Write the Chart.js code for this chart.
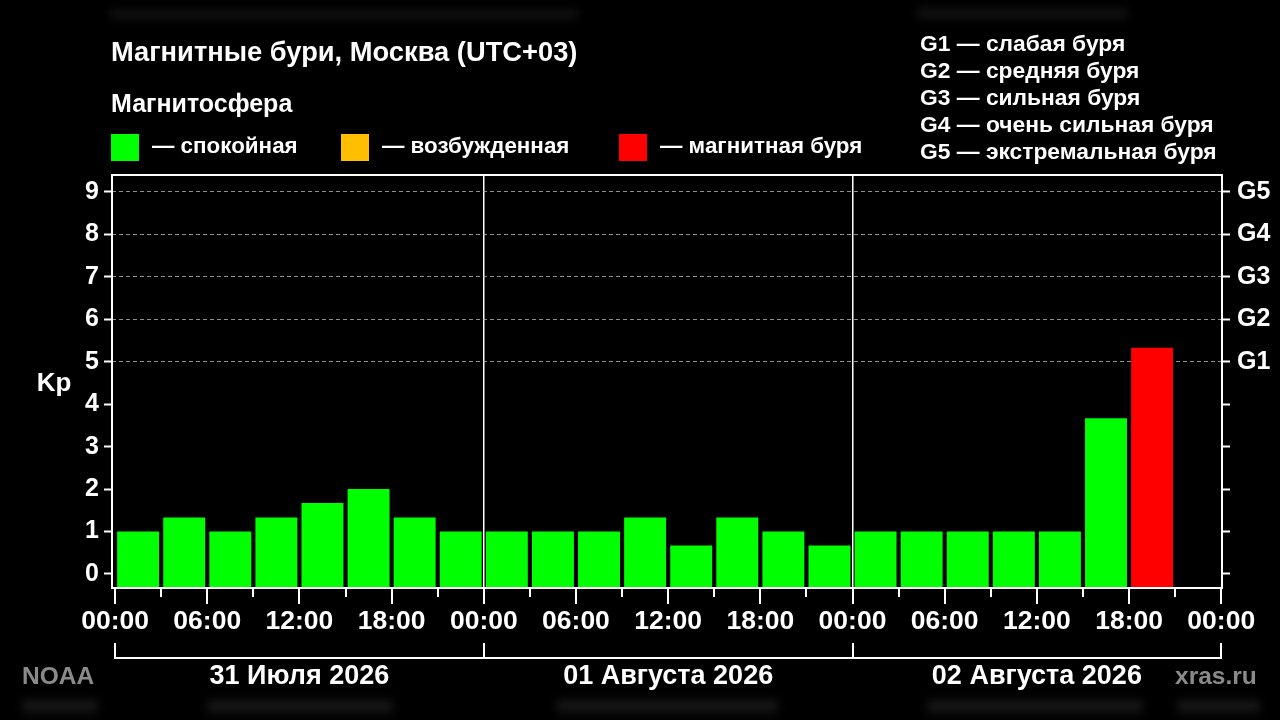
<!DOCTYPE html>
<html>
<head>
<meta charset="utf-8">
<script src="https://cdn.jsdelivr.net/npm/chart.js@4.4.1/dist/chart.umd.min.js"></script>
<style>
  html, body { margin: 0; padding: 0; background: #000; }
  #wrap { width: 1280px; height: 720px; }
</style>
</head>
<body>
<div id="wrap"><canvas id="kpChart" width="1280" height="720"></canvas></div>
<script>
// 3-hour slots, start hour counted from 31 July 00:00 (UTC+03)
const slotStarts = [0, 3, 6, 9, 12, 15, 18, 21, 24, 27, 30, 33, 36, 39, 42, 45, 48, 51, 54, 57, 60, 63, 66, 69];
const kpValues = [
  1, 1.33, 1, 1.33, 1.67, 2, 1.33, 1,
  1, 1, 1, 1.33, 0.67, 1.33, 1, 0.67,
  1, 1, 1, 1, 1, 3.67, 5.33, null
];
const xTickHours = [0, 3, 6, 9, 12, 15, 18, 21, 24, 27, 30, 33, 36, 39, 42, 45, 48, 51, 54, 57, 60, 63, 66, 69, 72];
const timeLabels = { 0: "00:00", 6: "06:00", 12: "12:00", 18: "18:00" };
const dayStarts = [0, 24, 48, 72];
const dayLabels = ["31 Июля 2026", "01 Августа 2026", "02 Августа 2026"];
const yTicks = [0, 1, 2, 3, 4, 5, 6, 7, 8, 9];
const gLabels = ["", "", "", "", "", "G1", "G2", "G3", "G4", "G5"];
const legendLabels = ["— спокойная", "— возбужденная", "— магнитная буря"];
const stormScale = [
  "G1 — слабая буря",
  "G2 — средняя буря",
  "G3 — сильная буря",
  "G4 — очень сильная буря",
  "G5 — экстремальная буря"
];

const FONT = "'Liberation Sans', Arial, sans-serif";
const GREEN = "#00ff00";
const ORANGE = "#ffbf00";
const RED = "#ff0000";
const Y_MIN = -0.33;
const Y_MAX = 9.4;

function kpColor(v) {
  if (v >= 5) return RED;
  if (v >= 4) return ORANGE;
  return GREEN;
}

// faint blurred strips along the top and bottom edges
function smudge(ctx, x0, x1, y0, y1, fromTop) {
  const g = ctx.createLinearGradient(0, y0, 0, y1);
  g.addColorStop(0, fromTop ? "rgba(255,255,255,0)" : "rgba(255,255,255,0.13)");
  g.addColorStop(1, fromTop ? "rgba(255,255,255,0.1)" : "rgba(255,255,255,0)");
  ctx.fillStyle = g;
  ctx.fillRect(x0, y0, x1 - x0, y1 - y0);
}

// Frame, extra ticks, titles and legends
const decorPlugin = {
  id: "decor",
  beforeDraw: (chart) => {
    const ctx = chart.ctx;
    ctx.save();
    ctx.fillStyle = "#000";
    ctx.fillRect(0, 0, chart.width, chart.height);
    ctx.filter = "blur(4px)";
    smudge(ctx, 110, 578, 6, 18, true);
    smudge(ctx, 917, 1128, 4, 18, true);
    smudge(ctx, 22, 98, 701, 718, false);
    smudge(ctx, 207, 393, 701, 718, false);
    smudge(ctx, 557, 778, 701, 718, false);
    smudge(ctx, 927, 1143, 701, 718, false);
    smudge(ctx, 1177, 1260, 701, 718, false);
    ctx.restore();
  },
  afterDraw: (chart) => {
    const ctx = chart.ctx;
    const area = chart.chartArea;
    const x = chart.scales.x;

    ctx.save();
    ctx.strokeStyle = "#fff";
    ctx.lineWidth = 2;
    ctx.strokeRect(area.left, area.top, area.right - area.left, area.bottom - area.top);

    // x ticks: long every 6h, short in between
    xTickHours.forEach((h) => {
      const px = Math.round(x.getPixelForValue(h));
      const len = h % 6 === 0 ? 15 : 8;
      ctx.beginPath();
      ctx.moveTo(px, area.bottom + 1);
      ctx.lineTo(px, area.bottom + 1 + len);
      ctx.stroke();
    });

    // day bracket
    const bracketY = 658;
    ctx.beginPath();
    ctx.moveTo(x.getPixelForValue(dayStarts[0]), bracketY);
    ctx.lineTo(x.getPixelForValue(dayStarts[dayStarts.length - 1]), bracketY);
    ctx.stroke();
    dayStarts.forEach((h) => {
      const px = Math.round(x.getPixelForValue(h));
      ctx.beginPath();
      ctx.moveTo(px, bracketY - 15);
      ctx.lineTo(px, bracketY + 1);
      ctx.stroke();
    });

    ctx.fillStyle = "#fff";
    ctx.textBaseline = "middle";
    ctx.textAlign = "center";
    ctx.font = `bold 27px ${FONT}`;
    dayLabels.forEach((label, i) => {
      const mid = (dayStarts[i] + dayStarts[i + 1]) / 2;
      ctx.fillText(label, x.getPixelForValue(mid), 677);
    });

    ctx.font = `bold 26px ${FONT}`;
    ctx.fillText("Kp", 54, 384);

    ctx.textAlign = "left";
    ctx.font = `bold 27.3px ${FONT}`;
    ctx.fillText("Магнитные бури, Москва (UTC+03)", 111, 53);
    ctx.font = `bold 25px ${FONT}`;
    ctx.fillText("Магнитосфера", 111, 105);

    const legendX = [111, 341, 619];
    const legendColors = [GREEN, ORANGE, RED];
    ctx.font = `bold 22.4px ${FONT}`;
    legendLabels.forEach((label, i) => {
      ctx.fillStyle = legendColors[i];
      ctx.fillRect(legendX[i], 134, 28, 27);
      ctx.fillStyle = "#fff";
      ctx.fillText(label, legendX[i] + 41, 147);
    });

    ctx.font = `bold 22.8px ${FONT}`;
    stormScale.forEach((line, i) => {
      ctx.fillText(line, 920, 45 + i * 27);
    });

    ctx.fillStyle = "#8a8a8a";
    ctx.font = `bold 24.5px ${FONT}`;
    ctx.fillText("NOAA", 22, 677);
    ctx.fillText("xras.ru", 1175, 677);
    ctx.restore();
  }
};

const chart = new Chart(document.getElementById("kpChart").getContext("2d"), {
  type: "bar",
  data: {
    datasets: [
      {
        data: slotStarts.map((h, i) => ({ x: h + 1.5, y: kpValues[i] })),
        backgroundColor: (c) => kpColor(c.raw ? c.raw.y : 0),
        base: Y_MIN,
        barPercentage: 0.91,
        categoryPercentage: 1,
        borderWidth: 0
      }
    ]
  },
  options: {
    responsive: false,
    animation: false,
    layout: { padding: { top: 175, left: 0, right: 0, bottom: 0 } },
    plugins: {
      legend: { display: false },
      tooltip: { enabled: false }
    },
    scales: {
      x: {
        type: "linear",
        offset: false,
        min: -0.2,
        max: 72.05,
        afterBuildTicks: (axis) => {
          axis.ticks = xTickHours.map((v) => ({ value: v }));
        },
        afterFit: (axis) => {
          axis.height = 132;
        },
        ticks: {
          autoSkip: false,
          maxRotation: 0,
          color: "#fff",
          padding: 3,
          font: { family: FONT, size: 26.5, weight: "bold" },
          callback: (v) => (v % 6 === 0 ? timeLabels[v % 24] : "")
        },
        grid: {
          offset: false,
          color: (c) => (c.tick && (c.tick.value === 24 || c.tick.value === 48) ? "#fff" : "rgba(0,0,0,0)"),
          lineWidth: 1.5,
          tickLength: 15,
          tickColor: "rgba(0,0,0,0)"
        },
        border: { display: false }
      },
      y: {
        position: "left",
        min: Y_MIN,
        max: Y_MAX,
        afterBuildTicks: (axis) => {
          axis.ticks = yTicks.map((v) => ({ value: v }));
        },
        afterFit: (axis) => {
          axis.width = 112;
        },
        ticks: {
          color: "#fff",
          padding: 5,
          font: { family: FONT, size: 25, weight: "bold" }
        },
        grid: {
          color: (c) => (c.tick && c.tick.value >= 5 ? "rgba(190,190,190,0.75)" : "rgba(0,0,0,0)"),
          lineWidth: 1,
          tickLength: 8,
          tickColor: "#fff",
          tickWidth: 2
        },
        border: { display: false, dash: [4, 3] }
      },
      y2: {
        position: "right",
        min: Y_MIN,
        max: Y_MAX,
        afterBuildTicks: (axis) => {
          axis.ticks = yTicks.map((v) => ({ value: v }));
        },
        afterFit: (axis) => {
          axis.width = 58;
        },
        ticks: {
          color: "#fff",
          padding: 7,
          font: { family: FONT, size: 25, weight: "bold" },
          callback: (v) => gLabels[v] || ""
        },
        grid: {
          drawOnChartArea: false,
          tickLength: 8,
          tickColor: "#fff",
          tickWidth: 2
        },
        border: { display: false }
      }
    }
  },
  plugins: [decorPlugin]
});
</script>
</body>
</html>
